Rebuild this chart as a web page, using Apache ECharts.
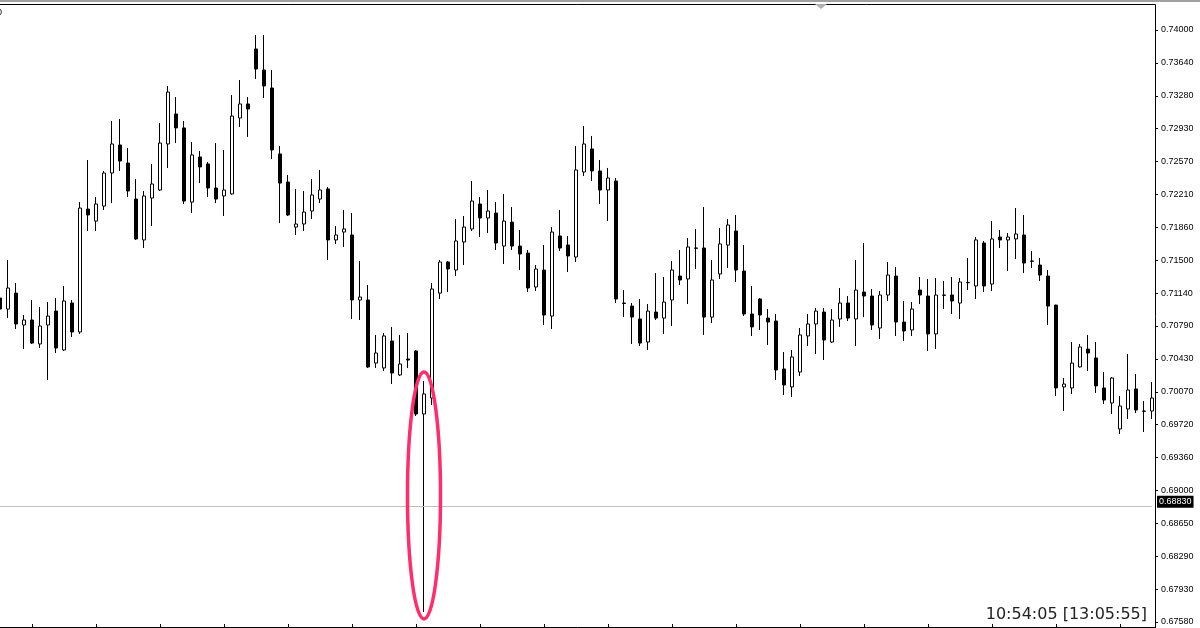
<!DOCTYPE html>
<html>
<head>
<meta charset="utf-8">
<script src="https://cdn.jsdelivr.net/npm/echarts/dist/echarts.min.js"></script>
<style>
html,body{margin:0;padding:0;background:#fff;}
#chart{width:1200px;height:628px;}
</style>
</head>
<body>
<div id="chart"></div>
<script>
// ---- data ----
const opens = [
0.71093,0.70974,0.71147,0.70801,0.70855,0.70595,0.70801,0.70952,0.70530,0.71039,
0.70725,0.72058,0.71928,0.72091,0.72449,0.72753,0.72557,0.72167,0.71723,0.72178,
0.72265,0.72764,0.73089,0.72938,0.72134,0.72623,0.72547,0.72286,0.72200,0.72222,
0.73046,0.73198,0.73794,0.73566,0.73371,0.72656,0.72351,0.71863,0.71896,0.72037,
0.72167,0.72276,0.71723,0.71809,0.71777,0.71072,0.71072,0.70388,0.70335,0.70627,
0.70259,0.70432,0.70519,0.69836,0.70009,0.71147,0.71484,0.71397,0.71701,0.71842,
0.72113,0.71961,0.72015,0.71657,0.71917,0.71657,0.71581,0.71213,0.71397,0.70898,
0.71766,0.71668,0.71538,0.72460,0.72710,0.72471,0.72265,0.72362,0.71039,0.71006,
0.70866,0.70616,0.70941,0.70876,0.71072,0.71332,0.71300,0.71636,0.71636,0.70887,
0.71354,0.71668,0.71820,0.71386,0.70920,0.71083,0.70876,0.70844,0.70324,0.70129,
0.70291,0.70682,0.70812,0.70941,0.70616,0.70866,0.71039,0.70866,0.71158,0.71115,
0.70768,0.71126,0.71332,0.70833,0.70747,0.71180,0.71115,0.70704,0.71126,0.71126,
0.71039,0.71259,0.71224,0.71690,0.71245,0.71755,0.71723,0.71734,0.71777,0.71495,
0.71451,0.71332,0.71017,0.70129,0.70118,0.70346,0.70540,0.70443,0.70118,0.69955,
0.69673,0.69890,0.70107,0.69868,0.69868
];
const closes = [
0.70974,0.71202,0.70812,0.70855,0.70605,0.70790,0.70898,0.70551,0.71061,0.70725,
0.72069,0.71994,0.72113,0.72449,0.72764,0.72579,0.72254,0.71734,0.72200,0.72330,
0.72774,0.73327,0.72938,0.72145,0.72645,0.72515,0.72286,0.72167,0.72265,0.73067,
0.73198,0.73143,0.73577,0.73393,0.72699,0.72340,0.71994,0.71896,0.72026,0.72211,
0.72265,0.71723,0.71777,0.71842,0.71072,0.71104,0.70346,0.70497,0.70682,0.70280,
0.70378,0.70421,0.69836,0.70053,0.71191,0.71484,0.71408,0.71712,0.71863,0.72145,
0.71961,0.72037,0.71690,0.71928,0.71657,0.71571,0.71202,0.71408,0.70909,0.71809,
0.71636,0.71549,0.72482,0.72764,0.72471,0.72265,0.72395,0.71083,0.71035,0.70887,
0.70605,0.70952,0.70876,0.71050,0.71397,0.71289,0.71647,0.71633,0.70887,0.71289,
0.71680,0.71885,0.71397,0.70920,0.70780,0.70909,0.70833,0.70313,0.70150,0.70454,
0.70693,0.70812,0.70952,0.70638,0.70855,0.71039,0.70876,0.71180,0.71115,0.70801,
0.71126,0.71343,0.70833,0.70736,0.70974,0.71126,0.70704,0.71126,0.71123,0.71061,
0.71267,0.71262,0.71723,0.71224,0.71734,0.71723,0.71755,0.71788,0.71473,0.71492,
0.71343,0.71006,0.70118,0.70161,0.70388,0.70562,0.70497,0.70140,0.69987,0.70226,
0.69922,0.70096,0.69879,0.69865,0.70009
];
const lows = [
0.70963,0.70876,0.70757,0.70540,0.70595,0.70551,0.70204,0.70497,0.70519,0.70671,
0.70704,0.71820,0.71820,0.72048,0.72123,0.72471,0.72189,0.71723,0.71636,0.71874,
0.72254,0.72504,0.72774,0.72113,0.72015,0.72340,0.72189,0.72123,0.71983,0.72215,
0.72949,0.72840,0.73469,0.73262,0.72601,0.71906,0.71983,0.71777,0.71820,0.71950,
0.72123,0.71506,0.71680,0.71647,0.70866,0.70855,0.70335,0.70335,0.70302,0.70161,
0.70248,0.70335,0.69814,0.67688,0.69933,0.71083,0.71158,0.71332,0.71451,0.71820,
0.71755,0.71798,0.71614,0.71462,0.71614,0.71397,0.71158,0.71169,0.70801,0.70757,
0.71603,0.71375,0.71484,0.72416,0.72362,0.72113,0.71928,0.71039,0.70887,0.70595,
0.70573,0.70530,0.70855,0.70704,0.70790,0.71234,0.71028,0.71408,0.70693,0.70822,
0.71300,0.71419,0.71267,0.70898,0.70682,0.70747,0.70584,0.70204,0.70042,0.70020,
0.70248,0.70573,0.70486,0.70421,0.70605,0.70780,0.70844,0.70573,0.70887,0.70747,
0.70649,0.71061,0.70682,0.70627,0.70682,0.71028,0.70519,0.70540,0.70974,0.70920,
0.70866,0.71180,0.71083,0.71158,0.71169,0.71636,0.71386,0.71516,0.71364,0.71419,
0.71278,0.70801,0.70031,0.69868,0.70053,0.70340,0.70302,0.70064,0.69944,0.69836,
0.69619,0.69781,0.69846,0.69640,0.69781
];
const highs = [
0.71516,0.71506,0.71256,0.70909,0.71072,0.70996,0.71050,0.71093,0.71224,0.71072,
0.72134,0.72590,0.72189,0.72471,0.73013,0.73035,0.72721,0.72384,0.72254,0.72547,
0.72991,0.73393,0.73273,0.73013,0.72785,0.72688,0.72568,0.72774,0.72699,0.73295,
0.73458,0.73273,0.73946,0.73946,0.73566,0.72742,0.72428,0.72276,0.72254,0.72384,
0.72482,0.72297,0.71874,0.72048,0.72015,0.71495,0.71234,0.70693,0.70714,0.70780,
0.70693,0.70714,0.70530,0.70193,0.71256,0.71506,0.71495,0.71950,0.71983,0.72362,
0.72189,0.72265,0.72134,0.72222,0.72080,0.71831,0.71614,0.71451,0.71668,0.71863,
0.72048,0.71766,0.72742,0.72959,0.72851,0.72590,0.72504,0.72395,0.71180,0.71039,
0.71083,0.71028,0.71364,0.71321,0.71495,0.71614,0.71744,0.71842,0.72080,0.71506,
0.71853,0.71950,0.71994,0.71668,0.71224,0.71090,0.70974,0.70920,0.70508,0.70530,
0.70768,0.70920,0.70985,0.70985,0.70974,0.71202,0.71115,0.71506,0.71690,0.71191,
0.71169,0.71484,0.71430,0.71061,0.71050,0.71321,0.71300,0.71310,0.71278,0.71321,
0.71310,0.71527,0.71755,0.71712,0.71928,0.71831,0.71798,0.72069,0.71994,0.71603,
0.71527,0.71397,0.71020,0.70226,0.70616,0.70595,0.70693,0.70616,0.70291,0.70237,
0.70031,0.70486,0.70269,0.69976,0.70183
];
const categories = opens.map((_, i) => String(i + 1));
const yTickLabels = ["0.67580","0.67930","0.68290","0.68650","0.69000","0.69360","0.69720",
  "0.70070","0.70430","0.70790","0.71140","0.71500","0.71860","0.72210","0.72570","0.72930",
  "0.73280","0.73640","0.74000"];
const yMin = 0.6758, yMax = 0.74;
const priceLine = 0.6883;
const priceLineLabel = "0.68830";
const clockText = "10:54:05 [13:05:55]";
const markedCandle = 53;

const yInterval = (yMax - yMin) / (yTickLabels.length - 1);
const candles = opens.map((o, i) => [o, closes[i], lows[i], highs[i]]);

const chart = echarts.init(document.getElementById('chart'), null, {renderer: 'canvas'});
const option = {
  animation: false,
  backgroundColor: '#ffffff',
  grid: {left: 0, right: 48, top: 30, bottom: 6, containLabel: false},
  xAxis: {
    type: 'category',
    data: categories,
    boundaryGap: false,
    offset: 5,
    axisLine: {show: false},
    axisTick: {show: true, inside: true, length: 3, lineStyle: {color: '#000'},
      interval: (idx) => idx % 8 === 4},
    axisLabel: {show: false},
    splitLine: {show: false}
  },
  yAxis: {
    type: 'value',
    position: 'right',
    offset: 3,
    min: yMin,
    max: yMax,
    interval: yInterval,
    axisLine: {show: false},
    axisTick: {show: true, length: 3, lineStyle: {color: '#000'}},
    axisLabel: {
      margin: 6,
      color: '#000',
      fontFamily: 'Liberation Sans',
      fontSize: 9,
      formatter: (v) => {
        const i = Math.round((v - yMin) / yInterval);
        return yTickLabels[i] !== undefined ? yTickLabels[i] : '';
      }
    },
    splitLine: {show: false}
  },
  series: [{
    type: 'candlestick',
    data: candles,
    barWidth: 4,
    clip: true,
    itemStyle: {
      color: '#ffffff',
      color0: '#000000',
      borderColor: '#000000',
      borderColor0: '#000000',
      borderWidth: 1
    },
    markLine: {
      silent: true,
      precision: 5,
      symbol: ['none', 'none'],
      animation: false,
      lineStyle: {color: '#c0c0c0', width: 1, type: 'solid'},
      label: {
        show: true, position: 'end', distance: 5,
        formatter: priceLineLabel,
        backgroundColor: '#000', color: '#fff',
        fontFamily: 'Liberation Sans', fontSize: 9,
        padding: [2, 2, 1, 2],
        offset: [0, -5]
      },
      data: [{yAxis: priceLine}]
    },
    z: 3
  }]
};
chart.setOption(option);

// decorations: frame, clock text, annotation ellipse around the marked candle
const hiPx = chart.convertToPixel({xAxisIndex: 0, yAxisIndex: 0}, [categories[markedCandle], highs[markedCandle]]);
const loPx = chart.convertToPixel({xAxisIndex: 0, yAxisIndex: 0}, [categories[markedCandle], lows[markedCandle]]);
const ellTop = hiPx[1] - 9, ellBottom = loPx[1] + 7;
chart.setOption({
  graphic: [
    {type: 'rect', shape: {x: 0, y: 0, width: 1200, height: 2}, style: {fill: '#a0a0a0'}, z: 10},
    {type: 'line', shape: {x1: 0, y1: 4.5, x2: 1155.5, y2: 4.5}, style: {stroke: '#000', lineWidth: 1}, z: 10},
    {type: 'line', shape: {x1: 1155.5, y1: 4.5, x2: 1155.5, y2: 628}, style: {stroke: '#000', lineWidth: 1}, z: 10},
    {type: 'line', shape: {x1: 0, y1: 627.5, x2: 1155.5, y2: 627.5}, style: {stroke: '#000', lineWidth: 1}, z: 10},
    {type: 'polygon', shape: {points: [[815, 4], [827, 4], [821, 9]]}, style: {fill: '#b0b0b0'}, z: 10},
    {type: 'text', x: -3, y: 8, style: {text: '0', font: '9px "Liberation Sans"', fill: '#000'}, z: 10},
    {type: 'text', x: 1147, y: 614.5, style: {text: clockText, font: '16px "DejaVu Sans"', fill: '#222',
      textAlign: 'right', textVerticalAlign: 'middle'}, z: 10},
    {type: 'ellipse', shape: {cx: hiPx[0], cy: (ellTop + ellBottom) / 2, rx: 16.5, ry: (ellBottom - ellTop) / 2},
      style: {fill: 'none', stroke: '#ff2d6b', lineWidth: 3.5}, z: 20}
  ]
});
</script>
</body>
</html>
